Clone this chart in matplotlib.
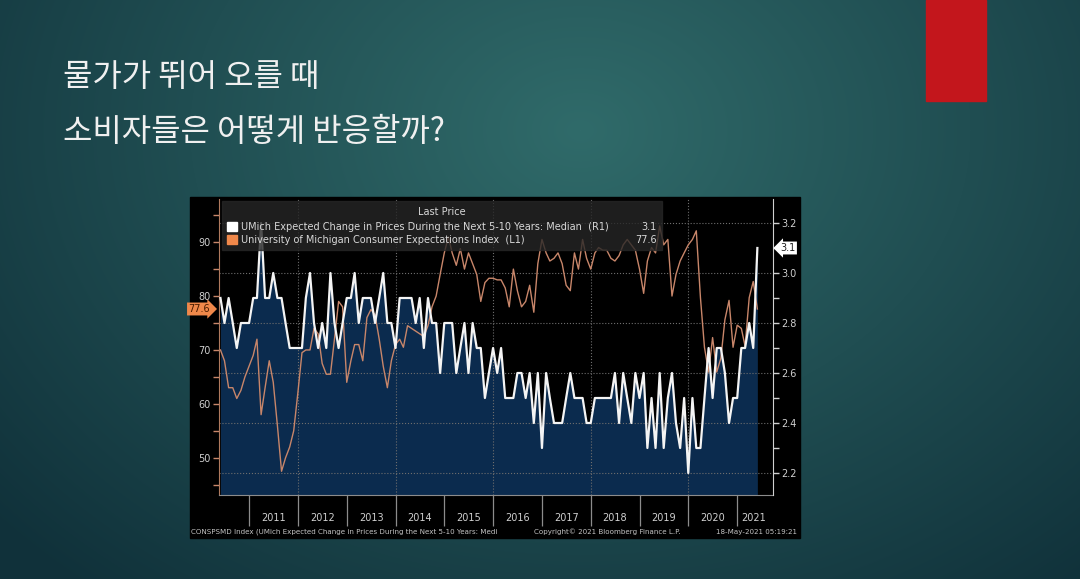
import numpy as np
import pandas as pd
import matplotlib
matplotlib.use('Agg')
from matplotlib import pyplot as plt
from matplotlib.patches import Rectangle
import matplotlib.dates as mdates

W, H = 1080, 579

# --- Datos (mensuales, may-2010 a may-2021) ---
dates = pd.date_range('2010-05-31', periods=133, freq='ME')

# UMich expectativa de inflación 5-10 años (mediana, eje derecho)
inflation_exp = [
    2.9, 2.8, 2.9, 2.8, 2.7, 2.8, 2.8, 2.8, 2.9, 2.9,
    3.2, 2.9, 2.9, 3.0, 2.9, 2.9, 2.8, 2.7, 2.7, 2.7,
    2.7, 2.9, 3.0, 2.8, 2.7, 2.8, 2.7, 3.0, 2.8, 2.7,
    2.8, 2.9, 2.9, 3.0, 2.8, 2.9, 2.9, 2.9, 2.8, 2.9,
    3.0, 2.8, 2.8, 2.7, 2.9, 2.9, 2.9, 2.9, 2.8, 2.9,
    2.7, 2.9, 2.8, 2.8, 2.6, 2.8, 2.8, 2.8, 2.6, 2.7,
    2.8, 2.6, 2.8, 2.7, 2.7, 2.5, 2.6, 2.7, 2.6, 2.7,
    2.5, 2.5, 2.5, 2.6, 2.6, 2.5, 2.6, 2.4, 2.6, 2.3,
    2.6, 2.5, 2.4, 2.4, 2.4, 2.5, 2.6, 2.5, 2.5, 2.5,
    2.4, 2.4, 2.5, 2.5, 2.5, 2.5, 2.5, 2.6, 2.4, 2.6,
    2.5, 2.4, 2.6, 2.5, 2.6, 2.3, 2.5, 2.3, 2.6, 2.3,
    2.5, 2.6, 2.4, 2.3, 2.5, 2.2, 2.5, 2.3, 2.3, 2.5,
    2.7, 2.5, 2.7, 2.7, 2.6, 2.4, 2.5, 2.5, 2.7, 2.7,
    2.8, 2.7, 3.1,
]

# Índice de expectativas del consumidor U. Michigan (eje izquierdo)
consumer_exp = [
    70, 68, 63, 63, 61, 62.5, 65, 67, 69, 72,
    58, 63, 68, 64, 56, 47.5, 50, 52, 55, 62,
    69.5, 70, 70, 74, 73, 67.5, 65.5, 65.5, 72, 79,
    78, 64, 68, 71, 71, 68, 76, 77.5, 76.5, 72,
    67, 63, 68, 71, 72, 70.5, 74.5, 74, 73.5, 73,
    72.5, 74.5, 78, 80, 84, 88, 91, 88, 85.7, 88.8,
    85, 88, 86, 84, 79, 82.5, 83.3, 83.3, 83, 83,
    81.5, 78, 85, 81, 78, 79, 82, 77, 86, 90.5,
    88, 86.5, 87, 88, 86, 82, 81, 88, 85, 90.5,
    87, 85, 88, 89, 88.5, 88.5, 87, 86.5, 87.5, 89.5,
    90.5, 89.5, 88.5, 85, 80.5, 86.5, 89, 88, 93, 89.5,
    90.5, 80, 84, 86.5, 88, 89.5, 90.5, 92.1, 79.7, 70.5,
    65.9, 72.3, 65.9, 68.5, 75.6, 79.2, 70.5, 74.6, 74.0, 70.7,
    79.7, 82.7, 77.6,
]

years = list(range(2011, 2022))
title_lines = ['물가가 뛰어 오를 때', '소비자들은 어떻게 반응할까?']
label_r = 'UMich Expected Change in Prices During the Next 5-10 Years: Median  (R1)'
label_l = 'University of Michigan Consumer Expectations Index  (L1)'

NAVY = '#0b2b4e'
ORANGE = '#c8866a'
ORANGE_BOX = '#f0884a'


def fx(x):
    return x / W


def fy(y):
    return 1 - y / H


fig = plt.figure(figsize=(W / 100, H / 100), dpi=100)

# --- Fondo de la diapositiva (degradado) ---
bg = fig.add_axes([0, 0, 1, 1])
bg.set_zorder(-5)
yy, xx = np.mgrid[0:H, 0:W]
d = np.clip(np.hypot(xx - 580, (yy - 130) * 1.3) / 780, 0, 1)[..., None]
c0 = np.array([0x30, 0x6b, 0x6a]) / 255
c1 = np.array([0x10, 0x31, 0x3a]) / 255
bg.imshow(c0 + (c1 - c0) * d, extent=[0, W, H, 0], aspect='auto')
bg.set_xlim(0, W)
bg.set_ylim(H, 0)
bg.axis('off')

fig.add_artist(Rectangle((fx(926), fy(101)), 60 / W, 101 / H,
                         transform=fig.transFigure, color='#c3161c'))

kfont = ['Noto Sans CJK KR', 'DejaVu Sans']
fig.text(fx(63), fy(77), title_lines[0], fontsize=23, color='#f0f0f0',
         va='center', family=kfont)
fig.text(fx(63), fy(132), title_lines[1], fontsize=23, color='#f0f0f0',
         va='center', family=kfont)

# --- Panel negro del gráfico ---
fig.add_artist(Rectangle((fx(190), fy(538)), 610 / W, 341 / H,
                         transform=fig.transFigure, color='black', zorder=-1))

pos = [fx(219), fy(495), (773 - 219) / W, (495 - 199) / H]
xlim = (pd.Timestamp('2010-05-20'), pd.Timestamp('2021-09-25'))
rlim = (2.112, 3.296)
llim = (43.1, 98.0)

# relleno bajo la serie de inflación
axf = fig.add_axes(pos)
axf.set_facecolor('black')
axf.fill_between(dates, inflation_exp, rlim[0] - 1, color=NAVY, lw=0)
axf.set_xlim(xlim)
axf.set_ylim(rlim)
axf.set_yticks(np.arange(2.2, 3.25, 0.2))
axf.set_xticks([pd.Timestamp(f'{y}-01-01') for y in years if y % 2 == 0])
axf.set_axisbelow(False)
axf.grid(True, color='#6e6e6e', ls=':', lw=0.8)
axf.tick_params(length=0, labelbottom=False, labelleft=False)
for s in axf.spines.values():
    s.set_visible(False)

# serie naranja (eje izquierdo)
ax = fig.add_axes(pos, facecolor='none')
ax.plot(dates, consumer_exp, color=ORANGE, lw=1.0)
ax.set_xlim(xlim)
ax.set_ylim(llim)
ax.set_yticks([50, 60, 70, 80, 90])
ax.set_yticks(np.arange(45, 96, 5), minor=True)
ax.tick_params(axis='y', which='both', colors='#cfcfcf', labelsize=7,
               length=4, width=1, pad=2)
ax.tick_params(axis='y', which='both', color=ORANGE)
ax.xaxis.set_major_locator(mdates.YearLocator())
ax.tick_params(axis='x', which='major', length=22, width=0.9,
               color='#8c8c8c', labelbottom=False)
lab_pos = [pd.Timestamp(f'{y}-07-01') for y in years[:-1]] + [pd.Timestamp('2021-05-01')]
ax.set_xticks(lab_pos, [str(y) for y in years], minor=True)
ax.tick_params(axis='x', which='minor', length=0, pad=13, labelsize=7,
               labelcolor='#d0d0d0')
ax.spines['left'].set_color('#b07a5e')
ax.spines['bottom'].set_color('#8c8c8c')
ax.spines['top'].set_visible(False)
ax.spines['right'].set_visible(False)

# serie blanca (eje derecho)
axw = fig.add_axes(pos, facecolor='none')
axw.plot(dates, inflation_exp, color='#f4f4f4', lw=1.6)
axw.set_xlim(xlim)
axw.set_ylim(rlim)
axw.yaxis.tick_right()
axw.set_yticks(np.arange(2.2, 3.25, 0.2), [f'{v:.1f}' for v in np.arange(2.2, 3.25, 0.2)])
axw.set_yticks(np.arange(2.3, 3.25, 0.2), minor=True)
axw.tick_params(axis='y', which='both', colors='#d0d0d0', labelsize=7,
                length=4, width=1, pad=2)
axw.xaxis.set_visible(False)
for k in ['left', 'top', 'bottom']:
    axw.spines[k].set_visible(False)
axw.spines['right'].set_color('#d0d0d0')

# etiquetas del último valor
axw.text(1.013, inflation_exp[-1], f'{inflation_exp[-1]:.1f}',
         transform=axw.get_yaxis_transform(), ha='left', va='center',
         fontsize=7, color='#202020',
         bbox=dict(boxstyle='larrow,pad=0.15', fc='white', ec='none'))
ax.text(-0.016, consumer_exp[-1], f'{consumer_exp[-1]:.1f}',
        transform=ax.get_yaxis_transform(), ha='right', va='center',
        fontsize=7, color='#4a1c00',
        bbox=dict(boxstyle='rarrow,pad=0.15', fc=ORANGE_BOX, ec='none'))

# --- Leyenda estilo Bloomberg ---
fig.add_artist(Rectangle((fx(222), fy(250)), 440 / W, 49 / H,
                         transform=fig.transFigure, color='#262626',
                         alpha=0.8, zorder=5))
txt = dict(fontsize=7, color='#d8d8d8', va='center', zorder=6)
fig.text(fx(442), fy(212), 'Last Price', ha='center', **txt)
fig.add_artist(Rectangle((fx(227), fy(231)), 10 / W, 9 / H,
                         transform=fig.transFigure, color='white', zorder=6))
fig.add_artist(Rectangle((fx(227), fy(244)), 10 / W, 9 / H,
                         transform=fig.transFigure, color=ORANGE_BOX, zorder=6))
fig.text(fx(241), fy(227), label_r, ha='left', **txt)
fig.text(fx(657), fy(227), f'{inflation_exp[-1]:.1f}', ha='right', **txt)
fig.text(fx(241), fy(240), label_l, ha='left', **txt)
fig.text(fx(657), fy(240), f'{consumer_exp[-1]:.1f}', ha='right', **txt)

# --- Pie ---
foot = dict(fontsize=5.1, color='#c4c4c4', va='center')
fig.text(fx(191), fy(532), 'CONSPSMD Index (UMich Expected Change in Prices During the Next 5-10 Years: Medi',
         ha='left', **foot)
fig.text(fx(607), fy(532), 'Copyright\u00a9 2021 Bloomberg Finance L.P.', ha='center', **foot)
fig.text(fx(797), fy(532), '18-May-2021 05:19:21', ha='right', **foot)

fig.savefig('out.png', dpi=100)
